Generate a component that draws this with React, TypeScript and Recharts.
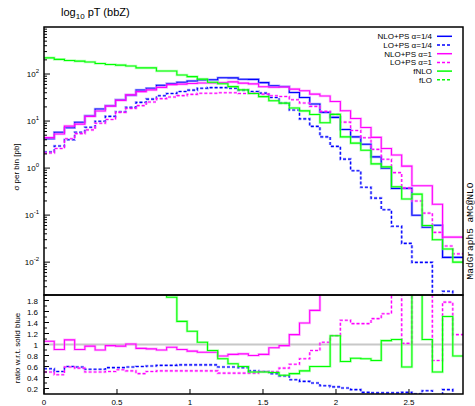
import { LineChart, Line, XAxis, YAxis, ReferenceLine } from 'recharts';

// bin width in log10 pT, 41 bins from 0
const binWidth = 0.07;
const xTicks = [0, 0.5, 1, 1.5, 2, 2.5];
const xTickLabels = ['0', '0.5', '1', '1.5', '2', '2.5'];
const NONE = 1e-5; // empty bin (drawn below the log axis)

// sigma per bin [pb]
const nloQuarter = [4.2, 5.8, 7.2, 9.4, 13.0, 18.1, 21.2, 28.4, 35.6, 45.4, 50, 57.8, 62.5, 66.9, 71.3, 74.8, 75.5, 83.6, 83, 77.3, 77, 65.6, 55.9, 54, 40.4, 31.7, 23, 15.3, 12.0, 6.6, 4.6, 3.2, 1.73, 0.99, 0.37, 0.37, 0.099, 0.055, 0.061, 0.0126, 0.0126];
const loQuarter = [2.2, 2.94, 4.0, 5.8, 7.4, 9.9, 12.6, 15.8, 19.5, 24.9, 29.3, 34.4, 38.5, 42.4, 45.4, 50, 51.5, 51.5, 50, 45.4, 42.4, 39.3, 31.7, 24.2, 17.2, 11.1, 7.7, 4.6, 2.9, 1.55, 0.88, 0.39, 0.23, 0.13, 0.058, 0.025, 0.0099, 0.0099, NONE, 0.0024, NONE];
const nloOne = [4.45, 5.3, 7.8, 8.6, 12.6, 16.3, 20.8, 27.5, 36, 42.2, 46, 52, 59.4, 60.9, 62.7, 64.3, 64.5, 66, 68, 64, 61.6, 53.8, 52.5, 53, 47.7, 44, 37.3, 34, 26, 16.6, 11.3, 7.3, 4.5, 2.6, 1.9, 1.1, 0.42, 0.42, 0.17, 0.034, 0.034];
const loOne = [2.1, 2.6, 4.2, 5.4, 6.5, 9.0, 10.8, 15.3, 18.5, 21.3, 25.5, 30, 32.5, 34.8, 37, 39, 39, 40, 40, 38.5, 39.3, 37.3, 34.4, 33.3, 28.4, 24.2, 20.5, 16.1, 13.9, 9.5, 6.3, 4.4, 2.5, 1.54, 0.8, 0.38, 0.2, 0.11, 0.043, 0.022, 0.015];
const fNlo = [220, 205, 194, 188, 180, 168, 160, 155, 148, 135, 135, 116, 116, 95, 88, 78, 67, 62, 54, 46, 38.5, 33, 27, 24, 19, 16.5, 13.8, 9.2, 13.9, 4.6, 3.4, 2.4, 1.23, 1.06, 0.40, 0.22, 0.28, 0.06, 0.03, 0.019, 0.01];

// ratio w.r.t. solid blue
const ratioLoQuarter = [0.56, 0.51, 0.60, 0.59, 0.55, 0.55, 0.58, 0.58, 0.59, 0.60, 0.61, 0.62, 0.62, 0.63, 0.63, 0.63, 0.63, 0.59, 0.59, 0.58, 0.52, 0.51, 0.47, 0.43, 0.36, 0.33, 0.30, 0.25, 0.23, 0.21, 0.18, 0.13, 0.12, 0.12, 0.12, 0.13, 0.1, 0.16, 0, 0.18, 0];
const ratioNloOne = [1.06, 0.91, 1.085, 0.91, 0.97, 0.90, 0.98, 0.97, 1.01, 0.93, 0.92, 0.90, 0.95, 0.91, 0.88, 0.86, 0.86, 0.79, 0.82, 0.83, 0.80, 0.82, 0.94, 0.98, 1.18, 1.39, 1.62, 2.2, 2.2, 2.5, 2.45, 2.3, 2.6, 2.6, 5.1, 3.0, 4.2, 7.6, 2.8, 2.7, 2.7];
const ratioLoOne = [0.50, 0.45, 0.59, 0.57, 0.50, 0.50, 0.51, 0.54, 0.52, 0.47, 0.51, 0.52, 0.52, 0.52, 0.52, 0.52, 0.52, 0.48, 0.48, 0.48, 0.48, 0.51, 0.51, 0.57, 0.64, 0.74, 0.89, 1.04, 1.16, 1.44, 1.38, 1.38, 1.47, 1.56, 2.2, 1.02, 2.0, 2.0, 0.71, 1.77, 1.18];
const ratioFNlo = [52, 35, 27, 20, 14, 9.3, 7.5, 5.5, 4.2, 3.0, 2.7, 2.0, 1.86, 1.42, 1.24, 1.04, 0.89, 0.74, 0.65, 0.60, 0.50, 0.50, 0.49, 0.44, 0.47, 0.52, 0.60, 0.60, 1.16, 0.69, 0.75, 0.74, 0.71, 1.07, 1.09, 0.59, 2.8, 1.09, 0.50, 1.51, 0.79];

const legendItems = [
  { label: 'NLO+PS \u03b1=1/4', color: '#0000ff', dash: undefined },
  { label: 'LO+PS \u03b1=1/4', color: '#0000ff', dash: '3 2' },
  { label: 'NLO+PS \u03b1=1', color: '#ff00ff', dash: undefined },
  { label: 'LO+PS \u03b1=1', color: '#ff00ff', dash: '3 2' },
  { label: 'fNLO', color: '#00ff00', dash: undefined },
  { label: 'fLO', color: '#00ff00', dash: '3 2' },
];

const topSeries = [
  { key: 'nloQuarter', color: '#0000ff', light: '#7070ff' },
  { key: 'loQuarter', color: '#0000ff', light: '#7070ff', dash: '3 2' },
  { key: 'nloOne', color: '#ff00ff', light: '#ff80ff' },
  { key: 'loOne', color: '#ff00ff', light: '#ff80ff', dash: '3 2' },
  { key: 'fNlo', color: '#00ff00', light: '#80ff80' },
];
const ratioSeries = [
  { key: 'ratioLoQuarter', color: '#0000ff', light: '#7070ff', dash: '3 2' },
  { key: 'ratioNloOne', color: '#ff00ff', light: '#ff80ff' },
  { key: 'ratioLoOne', color: '#ff00ff', light: '#ff80ff', dash: '3 2' },
  { key: 'ratioFNlo', color: '#00ff00', light: '#80ff80' },
];

// histogram edges: last edge repeats the last bin so stepAfter closes it
function toSteps(series: Record<string, number[]>) {
  const n = Object.values(series)[0].length;
  const rows: Record<string, number>[] = [];
  for (let i = 0; i <= n; i++) {
    const row: Record<string, number> = { x: +(i * binWidth).toFixed(2) };
    for (const k in series) row[k] = series[k][Math.min(i, n - 1)];
    rows.push(row);
  }
  return rows;
}

const topData = toSteps({ nloQuarter, loQuarter, nloOne, loOne, fNlo });
const ratioData = toSteps({ ratioLoQuarter, ratioNloOne, ratioLoOne, ratioFNlo });

const xMax = 41 * binWidth;
const PLOT_L = 44;
const TOP_BOTTOM = 295;
const RATIO_BOTTOM = 99;
const font = '"Liberation Sans", Arial, sans-serif';

const logMajors = [0.01, 0.1, 1, 10, 100];
const logTicks: number[] = [];
[0.001, 0.01, 0.1, 1, 10, 100].forEach((d) => {
  for (let k = 1; k <= 9; k++) {
    const v = +(k * d).toPrecision(3);
    if (v >= 0.002 && v < 1000) logTicks.push(v);
  }
});
const ratioTicks = [0.2, 0.3, 0.4, 0.5, 0.6, 0.7, 0.8, 0.9, 1, 1.1, 1.2, 1.3, 1.4, 1.5, 1.6, 1.7, 1.8];
const ratioLabels = [0.2, 0.4, 0.6, 0.8, 1, 1.2, 1.4, 1.6, 1.8];

const LogTick = (props: any) => {
  const { y, payload } = props;
  const v = payload.value;
  const major = logMajors.some((m) => Math.abs(m - v) / m < 1e-6);
  const exp = Math.round(Math.log10(v));
  return (
    <g>
      <line x1={PLOT_L} x2={PLOT_L + (major ? 6 : 3)} y1={y} y2={y} stroke="#000" strokeWidth={1} />
      {major && (
        <text x={PLOT_L - 5} y={y + 3} textAnchor="end" fontSize={8} fontFamily={font} fill="#000">
          10<tspan dy={-4} fontSize={6}>{exp}</tspan>
        </text>
      )}
    </g>
  );
};

const RatioTick = (props: any) => {
  const { y, payload } = props;
  const v = payload.value;
  const major = ratioLabels.some((m) => Math.abs(m - v) < 1e-6);
  return (
    <g>
      <line x1={PLOT_L} x2={PLOT_L + (major ? 5 : 3)} y1={y} y2={y} stroke="#000" strokeWidth={1} />
      {major && (
        <text x={PLOT_L - 6} y={y + 3} textAnchor="end" fontSize={8} fontFamily={font} fill="#000">
          {String(v)}
        </text>
      )}
    </g>
  );
};

const makeXTick = (bottom: number, withLabel: boolean) => (props: any) => {
  const { x, payload, index } = props;
  return (
    <g>
      <line x1={x} x2={x} y1={bottom} y2={bottom - 5} stroke="#000" strokeWidth={1} />
      {withLabel && (
        <text x={x} y={bottom + 11} textAnchor="middle" fontSize={8} fontFamily={font} fill="#000">
          {xTickLabels[index] ?? String(payload.value)}
        </text>
      )}
    </g>
  );
};

function renderLines(series: typeof topSeries) {
  const out: any[] = [];
  series.forEach((s) => {
    out.push(
      <Line
        key={s.key + '-halo'}
        type="stepAfter"
        dataKey={s.key}
        stroke={s.light}
        strokeOpacity={0.55}
        strokeWidth={2.6}
        strokeDasharray={s.dash}
        dot={false}
        activeDot={false}
        isAnimationActive={false}
      />
    );
    out.push(
      <Line
        key={s.key}
        type="stepAfter"
        dataKey={s.key}
        stroke={s.color}
        strokeWidth={1.1}
        strokeDasharray={s.dash}
        dot={false}
        activeDot={false}
        isAnimationActive={false}
      />
    );
  });
  return out;
}

export default function App() {
  return (
    <div style={{ position: 'absolute', left: 0, top: 0, width: 475, height: 406, background: '#fff', fontFamily: font }}>
      <div style={{ position: 'absolute', left: 0, top: 0 }}>
        <LineChart width={475} height={300} data={topData} margin={{ top: 27, right: 12, bottom: 5, left: 0 }}>
          <XAxis
            dataKey="x"
            type="number"
            domain={[0, xMax]}
            ticks={xTicks}
            height={0}
            axisLine={false}
            tickLine={false}
            tick={makeXTick(TOP_BOTTOM, false)}
            allowDataOverflow
          />
          <YAxis
            type="number"
            scale="log"
            domain={[0.002, 1000]}
            ticks={logTicks}
            width={PLOT_L}
            axisLine={false}
            tickLine={false}
            tick={<LogTick />}
            interval={0}
            allowDataOverflow
          />
          {renderLines(topSeries)}
        </LineChart>
      </div>
      <div style={{ position: 'absolute', left: 0, top: 295 }}>
        <LineChart width={475} height={111} data={ratioData} margin={{ top: 0, right: 12, bottom: 0, left: 0 }}>
          <XAxis
            dataKey="x"
            type="number"
            domain={[0, xMax]}
            ticks={xTicks}
            height={12}
            axisLine={false}
            tickLine={false}
            tick={makeXTick(RATIO_BOTTOM, true)}
            interval={0}
            allowDataOverflow
          />
          <YAxis
            type="number"
            domain={[0.1, 1.9]}
            ticks={ratioTicks}
            width={PLOT_L}
            axisLine={false}
            tickLine={false}
            tick={<RatioTick />}
            interval={0}
            allowDataOverflow
          />
          <ReferenceLine y={1} stroke="#c8c8c8" strokeWidth={2} />
          {renderLines(ratioSeries)}
        </LineChart>
      </div>
      <svg width={475} height={406} style={{ position: 'absolute', left: 0, top: 0, pointerEvents: 'none' }}>
        <rect x={PLOT_L} y={27} width={419} height={268} fill="none" stroke="#000" strokeWidth={1.5} />
        <rect x={PLOT_L} y={295} width={419} height={99} fill="none" stroke="#000" strokeWidth={1.5} />
        <text x={61} y={16} fontSize={11} fontFamily={font} fill="#000">
          log<tspan dy={3} fontSize={8}>10</tspan>
          <tspan dy={-3}> pT (bbZ)</tspan>
        </text>
        <text transform="translate(19,167) rotate(-90)" textAnchor="middle" fontSize={8} fontFamily={font} fill="#000">
          σ per bin [pb]
        </text>
        <text transform="translate(20,348) rotate(-90)" textAnchor="middle" fontSize={8} fontFamily={font} fill="#000">
          ratio w.r.t. solid blue
        </text>
        <text transform="translate(473,231) rotate(-90)" textAnchor="middle" fontSize={9.5} fontFamily='"Liberation Mono", "DejaVu Sans Mono", monospace' fill="#000">
          MadGraph5 aMC@NLO
        </text>
        {legendItems.map((it, i) => {
          const cy = 36.3 + i * 8.7;
          return (
            <g key={it.label}>
              <text x={432} y={cy + 3} textAnchor="end" fontSize={8} fontFamily={font} fill="#000">
                {it.label}
              </text>
              <line x1={437} x2={452} y1={cy} y2={cy} stroke={it.color} strokeWidth={1.5} strokeDasharray={it.dash} />
            </g>
          );
        })}
      </svg>
    </div>
  );
}
